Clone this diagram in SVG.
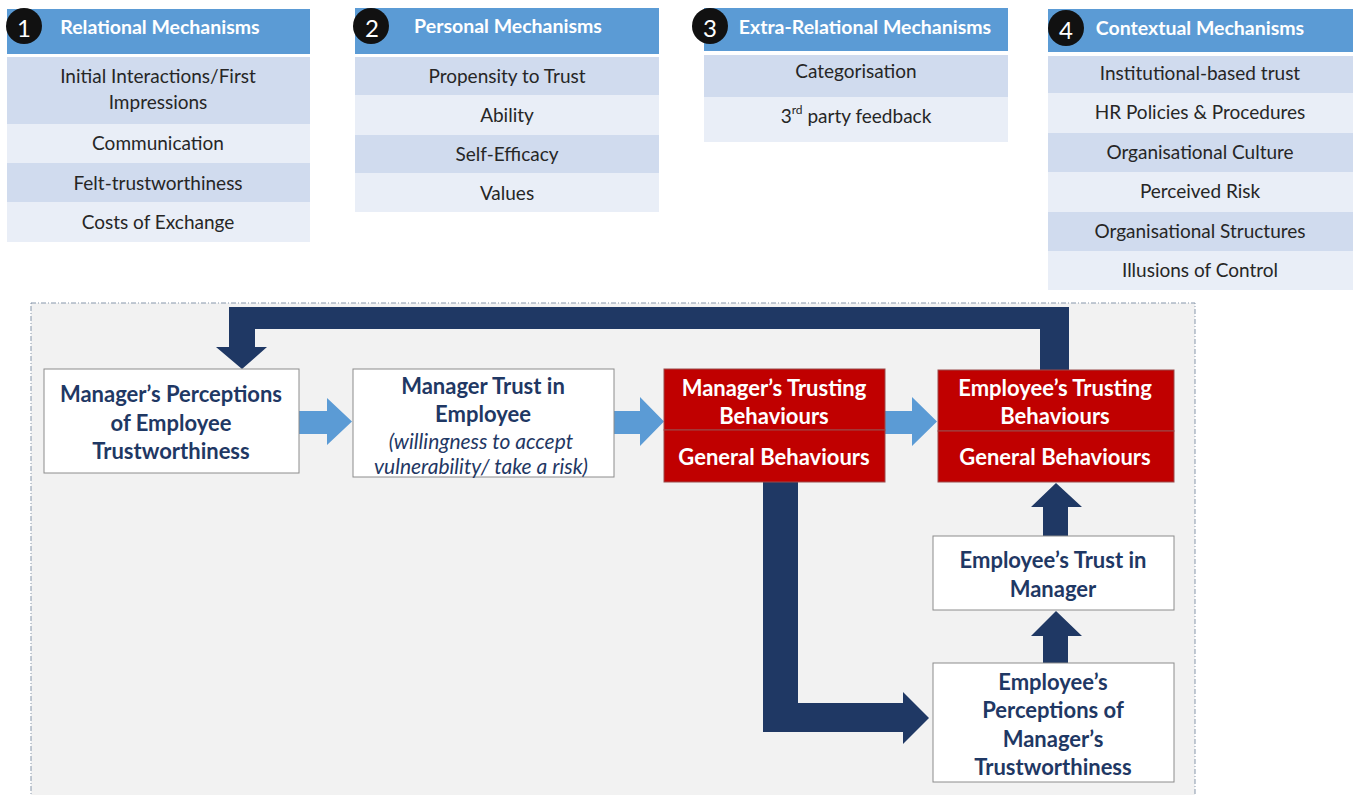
<svg xmlns="http://www.w3.org/2000/svg" width="1357" height="795" viewBox="0 0 1357 795">
  <style>
    text { font-family: Lato, "Open Sans", "Liberation Sans", sans-serif; text-anchor: middle; dominant-baseline: central; }
    .hdr { fill: #5b9bd5; }
    .rowA { fill: #d0dbee; }
    .rowB { fill: #e9eef7; }
    .hdrTxt { fill: #ffffff; font-weight: bold; font-size: 19.5px; }
    .rowTxt { fill: #262626; font-size: 19px; }
    .num { fill: #111111; }
    .numTxt { fill: #ffffff; font-size: 24px; }
    .box { fill: #ffffff; stroke: #8c8c8c; stroke-width: 1; }
    .red { fill: #c00000; stroke: #9a4a4a; stroke-width: 1; }
    .navyTxt { fill: #1f3864; font-weight: bold; font-size: 22px; }
    .navyIt { fill: #1f3864; font-style: italic; font-size: 21px; }
    .whiteTxt { fill: #ffffff; font-weight: bold; font-size: 22px; }
    .dark { fill: #1f3864; }
    .light { fill: #5b9bd5; }
  </style>

  <rect width="1357" height="795" fill="#ffffff"/>

  <!-- mechanism tables -->
  <g id="relational">
    <rect class="hdr" x="7" y="9" width="303" height="45"/>
    <rect class="rowA" x="7" y="57" width="303" height="67"/>
    <rect class="rowB" x="7" y="124" width="303" height="39"/>
    <rect class="rowA" x="7" y="163" width="303" height="39"/>
    <rect class="rowB" x="7" y="202" width="303" height="40"/>
    <text class="hdrTxt" x="160" y="26">Relational Mechanisms</text>
    <text class="rowTxt" x="158" y="75">Initial Interactions/First</text>
    <text class="rowTxt" x="158" y="101">Impressions</text>
    <text class="rowTxt" x="158" y="142">Communication</text>
    <text class="rowTxt" x="158" y="182">Felt-trustworthiness</text>
    <text class="rowTxt" x="158" y="221">Costs of Exchange</text>
    <circle class="num" cx="24" cy="26" r="18"/>
    <text class="numTxt" x="24" y="27">1</text>
  </g>

  <g id="personal">
    <rect class="hdr" x="355" y="8" width="304" height="46"/>
    <rect class="rowA" x="355" y="57" width="304" height="38"/>
    <rect class="rowB" x="355" y="95" width="304" height="40"/>
    <rect class="rowA" x="355" y="135" width="304" height="38"/>
    <rect class="rowB" x="355" y="173" width="304" height="39"/>
    <text class="hdrTxt" x="508" y="25">Personal Mechanisms</text>
    <text class="rowTxt" x="507" y="75">Propensity to Trust</text>
    <text class="rowTxt" x="507" y="114">Ability</text>
    <text class="rowTxt" x="507" y="153">Self-Efficacy</text>
    <text class="rowTxt" x="507" y="192">Values</text>
    <circle class="num" cx="371" cy="26" r="18"/>
    <text class="numTxt" x="372" y="27">2</text>
  </g>

  <g id="extra-relational">
    <rect class="hdr" x="704" y="8" width="304" height="43"/>
    <rect class="rowA" x="704" y="55" width="304" height="42"/>
    <rect class="rowB" x="704" y="97" width="304" height="45"/>
    <text class="hdrTxt" x="865" y="26">Extra-Relational Mechanisms</text>
    <text class="rowTxt" x="856" y="70">Categorisation</text>
    <text class="rowTxt" x="856" y="115">3<tspan font-size="12" dy="-6">rd</tspan><tspan dy="6"> party feedback</tspan></text>
    <circle class="num" cx="710" cy="26" r="18"/>
    <text class="numTxt" x="710" y="27">3</text>
  </g>

  <g id="contextual">
    <rect class="hdr" x="1048" y="9" width="305" height="43"/>
    <rect class="rowA" x="1048" y="56" width="305" height="37"/>
    <rect class="rowB" x="1048" y="93" width="305" height="40"/>
    <rect class="rowA" x="1048" y="133" width="305" height="39"/>
    <rect class="rowB" x="1048" y="172" width="305" height="40"/>
    <rect class="rowA" x="1048" y="212" width="305" height="39"/>
    <rect class="rowB" x="1048" y="251" width="305" height="39"/>
    <text class="hdrTxt" x="1200" y="27">Contextual Mechanisms</text>
    <text class="rowTxt" x="1200" y="72">Institutional-based trust</text>
    <text class="rowTxt" x="1200" y="111">HR Policies &amp; Procedures</text>
    <text class="rowTxt" x="1200" y="151">Organisational Culture</text>
    <text class="rowTxt" x="1200" y="190">Perceived Risk</text>
    <text class="rowTxt" x="1200" y="230">Organisational Structures</text>
    <text class="rowTxt" x="1200" y="269">Illusions of Control</text>
    <circle class="num" cx="1066" cy="28" r="18"/>
    <text class="numTxt" x="1066" y="29">4</text>
  </g>

  <!-- process panel -->
  <rect id="panel" x="31" y="303" width="1164" height="500" fill="#f2f2f2" stroke="#8797ab" stroke-width="1" stroke-dasharray="5 2 1 2"/>

  <!-- connectors -->
  <g id="connectors">
    <path class="dark" d="M1040 370 L1040 329 L255 329 L255 347 L267 347 L242 369 L216 347 L229 347 L229 307 L1069 307 L1069 370 Z"/>
    <path class="light" d="M299 411 L327 411 L327 398 L352 421.5 L327 445 L327 434 L299 434 Z"/>
    <path class="light" d="M614 411 L640 411 L640 397 L664 421.5 L640 446 L640 434 L614 434 Z"/>
    <path class="light" d="M885 411 L912 411 L912 397 L937 421.5 L912 446 L912 434 L885 434 Z"/>
    <path class="dark" d="M763 482 L798 482 L798 703 L903 703 L903 692 L929 718 L903 744 L903 732 L763 732 Z"/>
    <path class="dark" d="M1043 663 L1043 636 L1031 636 L1056 611 L1082 636 L1068 636 L1068 663 Z"/>
    <path class="dark" d="M1043 536 L1043 507 L1031 507 L1056 483 L1082 507 L1068 507 L1068 536 Z"/>
  </g>

  <g id="mgr-perceptions">
    <rect class="box" x="44" y="369" width="255" height="104"/>
    <text class="navyTxt" x="171" y="393">Manager’s Perceptions</text>
    <text class="navyTxt" x="171" y="422">of Employee</text>
    <text class="navyTxt" x="171" y="450">Trustworthiness</text>
  </g>

  <g id="mgr-trust">
    <rect class="box" x="353" y="369" width="261" height="108"/>
    <text class="navyTxt" x="483" y="385">Manager Trust in</text>
    <text class="navyTxt" x="483" y="413">Employee</text>
    <text class="navyIt" x="481" y="440">(willingness to accept</text>
    <text class="navyIt" x="481" y="465">vulnerability/ take a risk)</text>
  </g>

  <g id="mgr-behaviours">
    <rect class="red" x="664" y="369" width="221" height="61"/>
    <rect class="red" x="664" y="430" width="221" height="52"/>
    <text class="whiteTxt" x="774" y="387">Manager’s Trusting</text>
    <text class="whiteTxt" x="774" y="415">Behaviours</text>
    <text class="whiteTxt" x="774" y="456">General Behaviours</text>
  </g>

  <g id="emp-behaviours">
    <rect class="red" x="938" y="370" width="236" height="61"/>
    <rect class="red" x="938" y="431" width="236" height="51"/>
    <text class="whiteTxt" x="1055" y="387">Employee’s Trusting</text>
    <text class="whiteTxt" x="1055" y="415">Behaviours</text>
    <text class="whiteTxt" x="1055" y="456">General Behaviours</text>
  </g>

  <g id="emp-trust">
    <rect class="box" x="933" y="536" width="241" height="74"/>
    <text class="navyTxt" x="1053" y="559">Employee’s Trust in</text>
    <text class="navyTxt" x="1053" y="588">Manager</text>
  </g>

  <g id="emp-perceptions">
    <rect class="box" x="933" y="663" width="241" height="119"/>
    <text class="navyTxt" x="1053" y="681">Employee’s</text>
    <text class="navyTxt" x="1053" y="709">Perceptions of</text>
    <text class="navyTxt" x="1053" y="738">Manager’s</text>
    <text class="navyTxt" x="1053" y="766">Trustworthiness</text>
  </g>
</svg>
